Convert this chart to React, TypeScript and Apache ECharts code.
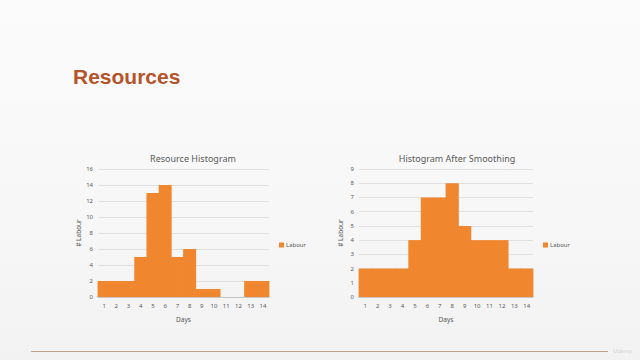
import React, { useEffect, useRef } from "react";
import * as echarts from "echarts";

const days = ["1", "2", "3", "4", "5", "6", "7", "8", "9", "10", "11", "12", "13", "14"];
const labourBefore = [2, 2, 2, 5, 13, 14, 5, 6, 1, 1, 0, 0, 2, 2];
const labourAfter = [2, 2, 2, 2, 4, 7, 7, 8, 5, 4, 4, 4, 2, 2];
const chartTitles = ["Resource Histogram", "Histogram After Smoothing"];
const seriesName = "Labour";

const FONT = "'Noto Sans', 'Open Sans', sans-serif";
const BAR = "#f0872f";
const TXT = "#595959";

const renderBar = (params: any, api: any) => {
  const idx = api.value(0);
  const v = api.value(1);
  const top = api.coord([idx, v]);
  const base = api.coord([idx, 0]);
  const w = api.size([1, 0])[0];
  const h = base[1] - top[1];
  if (h <= 0) return null;
  return {
    type: "rect",
    shape: { x: top[0] - w / 2 - 0.4, y: top[1], width: w + 0.8, height: h },
    style: { fill: BAR },
  };
};

export default function App() {
  const ref = useRef<HTMLDivElement>(null);
  useEffect(() => {
    if (!ref.current) return;
    const chart = echarts.init(ref.current, null, { renderer: "svg" });
    const grids = [
      { left: 98, top: 169, width: 171, height: 128 },
      { left: 359, top: 169, width: 174, height: 128 },
    ];
    const xAxis = grids.map((_, i) => ({
      type: "category",
      gridIndex: i,
      data: days,
      axisTick: { show: false },
      axisLine: { lineStyle: { color: "#bfbfbf", width: 0.8 } },
      axisLabel: { fontSize: 6, color: TXT, margin: 6, fontFamily: FONT },
      name: "Days",
      nameLocation: "middle",
      nameGap: 19,
      nameTextStyle: { fontSize: 6.5, color: TXT, fontFamily: FONT },
    }));
    const yMax = [16, 9];
    const yInt = [2, 1];
    const yAxis = grids.map((_, i) => ({
      type: "value",
      gridIndex: i,
      min: 0,
      max: yMax[i],
      interval: yInt[i],
      axisLine: { show: false },
      axisTick: { show: false },
      axisLabel: { fontSize: 6, color: TXT, margin: 5, fontFamily: FONT },
      splitLine: { lineStyle: { color: "#d9d9d9", width: 0.8 } },
      name: "# Labour",
      nameLocation: "middle",
      nameGap: 15,
      nameTextStyle: { fontSize: 6.5, color: TXT, fontFamily: FONT },
    }));
    const legendBase = {
      data: [{ name: seriesName, icon: "rect", itemStyle: { color: BAR } }],
      top: 242,
      padding: 0,
      itemWidth: 5,
      itemHeight: 5,
      selectedMode: false,
      textStyle: { fontSize: 6, color: TXT, fontFamily: FONT, padding: [0, 0, 0, -3] },
    };
    chart.setOption({
      animation: false,
      backgroundColor: "transparent",
      title: [
        {
          text: chartTitles[0],
          left: 188,
          top: 149,
          textAlign: "center",
          textStyle: { fontSize: 9, fontWeight: "normal", color: TXT, fontFamily: FONT },
        },
        {
          text: chartTitles[1],
          left: 452,
          top: 149,
          textAlign: "center",
          textStyle: { fontSize: 9, fontWeight: "normal", color: TXT, fontFamily: FONT },
        },
      ],
      legend: [
        { ...legendBase, left: 279 },
        { ...legendBase, left: 543 },
      ],
      grid: grids,
      xAxis,
      yAxis,
      series: [
        {
          name: seriesName,
          type: "custom",
          xAxisIndex: 0,
          yAxisIndex: 0,
          data: labourBefore.map((v, i) => [i, v]),
          encode: { x: 0, y: 1 },
          renderItem: renderBar,
          itemStyle: { color: BAR },
        },
        {
          name: seriesName,
          type: "custom",
          xAxisIndex: 1,
          yAxisIndex: 1,
          data: labourAfter.map((v, i) => [i, v]),
          encode: { x: 0, y: 1 },
          renderItem: renderBar,
          itemStyle: { color: BAR },
        },
      ],
      graphic: [
        {
          type: "text",
          left: 73,
          top: 66,
          style: {
            text: "Resources",
            font: "bold 21px 'Liberation Sans', Arial, sans-serif",
            fill: "#b5532a",
          },
        },
        {
          type: "line",
          shape: { x1: 31, y1: 351.5, x2: 608, y2: 351.5 },
          style: { stroke: "#bf9f90", lineWidth: 1.2 },
        },
        {
          type: "text",
          left: 613,
          top: 348,
          style: {
            text: "Udemy",
            font: "6px 'Liberation Sans', Arial, sans-serif",
            fill: "#d4d4d4",
          },
        },
      ],
    });
    return () => chart.dispose();
  }, []);
  return (
    <div
      style={{
        position: "fixed",
        left: 0,
        top: 0,
        width: 640,
        height: 360,
        background: "linear-gradient(180deg, #fbfbfb 0%, #f7f7f7 60%, #f2f2f2 100%)",
      }}
    >
      <div ref={ref} style={{ width: 640, height: 360 }} />
    </div>
  );
}
